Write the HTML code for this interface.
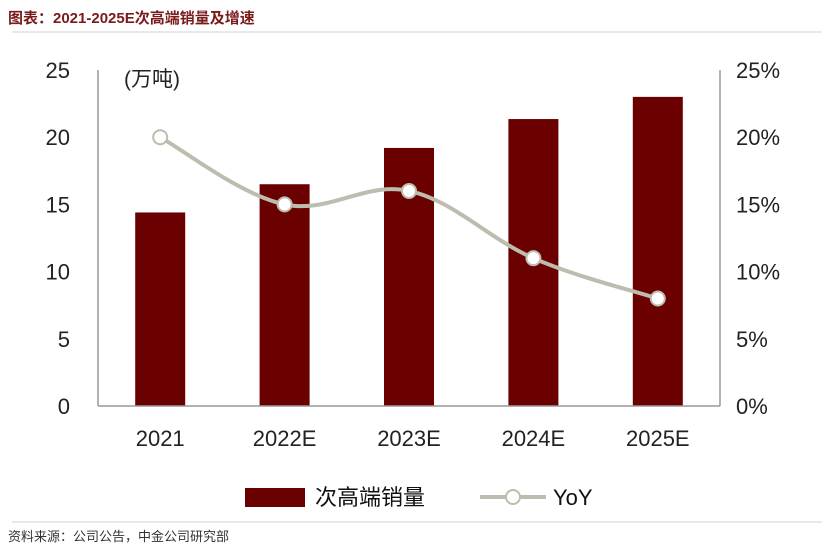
<!DOCTYPE html>
<html><head><meta charset="utf-8"><style>
body{margin:0;background:#fff;width:830px;height:554px;overflow:hidden;font-family:"Liberation Sans","Noto Sans CJK SC",sans-serif}
</style></head><body>
<svg width="830" height="554" xmlns="http://www.w3.org/2000/svg">
<text x="8" y="23" font-size="15" font-weight="bold" fill="#7a1a1a" font-family="Liberation Sans, Noto Sans CJK SC, sans-serif">图表：2021-2025E次高端销量及增速</text>
<line x1="12" y1="32" x2="822" y2="32" stroke="#e2e2e2" stroke-width="1.5"/>
<line x1="12" y1="522" x2="822" y2="522" stroke="#e2e2e2" stroke-width="1.5"/>
<text x="8" y="541" font-size="13" fill="#333">资料来源：公司公告，中金公司研究部</text>
<text x="124" y="86" font-size="21" fill="#222">(万吨)</text>
<g id="g"></g>
<g>
<rect x="245" y="488" width="60" height="19" fill="#6b0000"/>
<text x="315" y="505" font-size="22" fill="#111">次高端销量</text>
<line x1="480" y1="497" x2="546" y2="497" stroke="#bdbcae" stroke-width="4"/>
<circle cx="513" cy="497" r="7" fill="#fff" stroke="#bdbcae" stroke-width="2"/>
<text x="553" y="505" font-size="22" fill="#111">YoY</text>
</g>
</svg>
<script>
const categories=["2021","2022E","2023E","2024E","2025E"];
const volume=[14.4,16.5,19.2,21.35,23.0];
const yoy=[20,15,16,11,8];
const leftTicks=[0,5,10,15,20,25];
const rightTicks=[0,5,10,15,20,25];
const NS="http://www.w3.org/2000/svg";
const g=document.getElementById('g');
const X0=98,X1=720,Y0=406,Y1=70;
const step=(X1-X0)/categories.length;
const xc=i=>X0+step*(i+0.5);
const yL=v=>Y0-(v/25)*(Y0-Y1);
const yR=v=>Y0-(v/25)*(Y0-Y1);
function mk(t,a,txt){const e=document.createElementNS(NS,t);for(const k in a)e.setAttribute(k,a[k]);if(txt!==undefined)e.textContent=txt;g.appendChild(e);return e;}
leftTicks.forEach(v=>{const e=mk('text',{x:70,y:yL(v)+8,'font-size':22,fill:'#222','text-anchor':'end'},v);

});
rightTicks.forEach(v=>{const e=mk('text',{x:736,y:yR(v)+8,'font-size':22,fill:'#222'},v+'%');

});
volume.forEach((v,i)=>{const e=mk('rect',{x:xc(i)-25,y:yL(v),width:50,height:Y0-yL(v),fill:'#6b0000'});

});
let a=mk('line',{x1:X0,y1:Y1,x2:X0,y2:Y0,stroke:'#999','stroke-width':1.5});


a=mk('line',{x1:X1,y1:Y1,x2:X1,y2:Y0,stroke:'#999','stroke-width':1.5});


a=mk('line',{x1:X0,y1:Y0,x2:X1,y2:Y0,stroke:'#999','stroke-width':1.5});


categories.forEach((c,i)=>{const e=mk('text',{x:xc(i),y:446,'font-size':22,fill:'#222','text-anchor':'middle'},c);

});
const P=yoy.map((v,i)=>[xc(i),yR(v)]);
let d='M'+P[0].join(',');
for(let i=0;i<P.length-1;i++){const p0=P[Math.max(i-1,0)],p1=P[i],p2=P[i+1],p3=P[Math.min(i+2,P.length-1)];
const t=0.18;d+=` C${p1[0]+(p2[0]-p0[0])*t},${p1[1]+(p2[1]-p0[1])*t} ${p2[0]-(p3[0]-p1[0])*t},${p2[1]-(p3[1]-p1[1])*t} ${p2[0]},${p2[1]}`;}
const ln=mk('path',{d:d,fill:'none',stroke:'#bdbcae','stroke-width':4});


P.forEach((p,i)=>{const e=mk('circle',{cx:p[0],cy:p[1],r:7,fill:'#fff',stroke:'#bdbcae','stroke-width':2});

});
</script>
</body></html>
